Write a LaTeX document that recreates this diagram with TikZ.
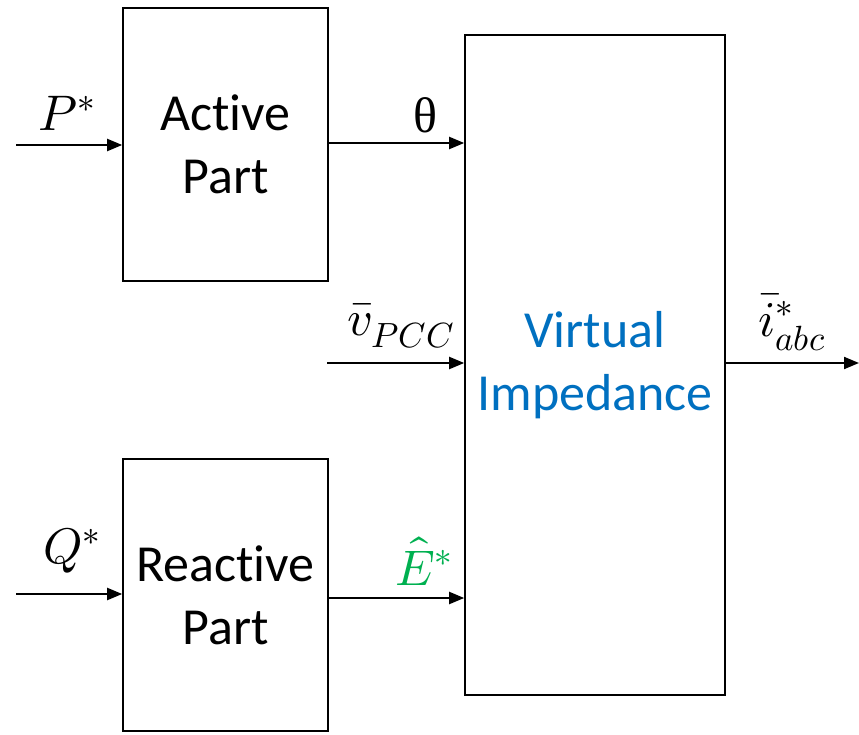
\documentclass[tikz,border=0pt]{standalone}
\usepackage{fontspec}
\usepackage{unicode-math}
\setmainfont[Ligatures={NoCommon}]{Carlito}
\setmathfont{Latin Modern Math}
\newfontfamily\thetafont{Liberation Serif}
\usetikzlibrary{arrows.meta}
\definecolor{viblue}{HTML}{0070C0}
\definecolor{egreen}{HTML}{00B050}
\begin{document}
\begin{tikzpicture}[x=1pt,y=-1pt,
  block/.style={draw, line width=1.6pt, inner sep=0pt, align=center,
    font=\fontsize{52}{63}\selectfont},
  sig/.style={line width=2pt, -{Triangle[length=15pt,width=12pt]}},
  lbl/.style={inner sep=0pt, font=\fontsize{50}{52}\selectfont}]
\useasboundingbox (0,0) rectangle (859,735);

% blocks
\node[block, minimum width=205pt, minimum height=273pt] (act) at (225.5,144.5) {Active\\Part};
\node[block, minimum width=205pt, minimum height=272pt] (rea) at (225.5,595) {Reactive\\Part};
\node[block, minimum width=260pt, minimum height=660pt, text=viblue] (vi) at (595,365) {Virtual\\Impedance};

% free ends of the signal lines
\coordinate (pin) at (16,145);
\coordinate (qin) at (16,594);
\coordinate (vin) at (327,363);
\coordinate (iout) at (859,363);

% connectors
\draw[sig] (pin) -- (pin -| act.west);
\draw[sig] (qin) -- (qin -| rea.west);
\draw[sig] (act.east |- 0,143) -- (vi.west |- 0,143);
\draw[sig] (vin) -- (vin -| vi.west);
\draw[sig] (rea.east |- 0,598) -- (vi.west |- 0,598);
\draw[sig] (vi.east |- iout) -- (iout);

% labels
\node[lbl] (lp) at (67,113) {$P^*$};
\node[lbl] (lq) at (72,551) {$Q^*$};
\node[lbl, font=\thetafont\fontsize{50}{50}\selectfont] (lt) at (425,115) {θ};
\node[lbl] (lv) at (401,326) {$\bar{v}_{PCC}$};
\node[lbl] (li) at (792,322) {$\bar{i}^*_{abc}$};
\node[lbl, text=egreen] (le) at (424,561) {$\hat{E}^*$};
\end{tikzpicture}
\end{document}
